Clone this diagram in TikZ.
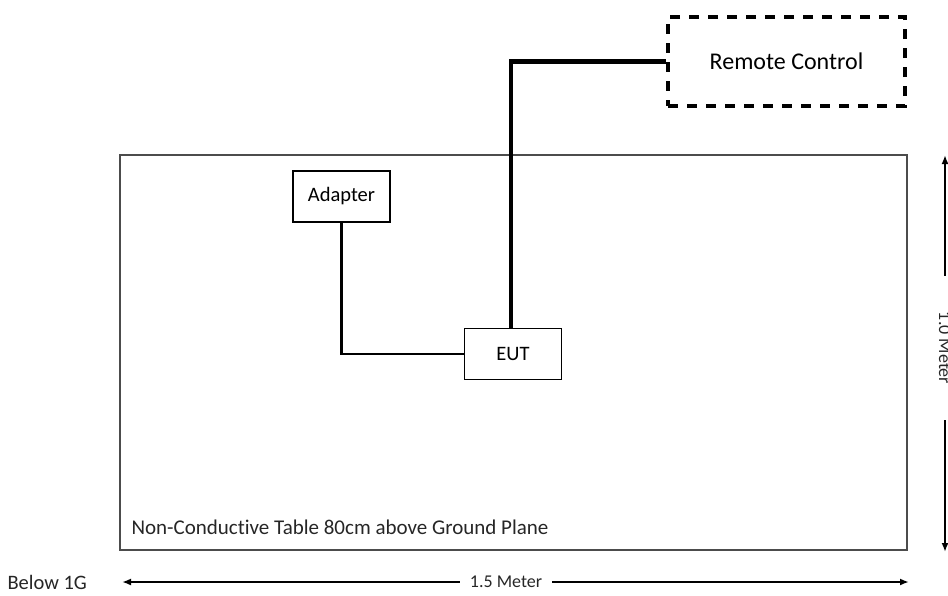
\documentclass[tikz,border=0pt]{standalone}
\usepackage{fontspec}
\setmainfont{Carlito}[Ligatures=NoCommon]
\usetikzlibrary{arrows.meta}

\begin{document}
\begin{tikzpicture}[
            x=1pt, y=-1pt,
            unit/.style={draw=black, line width=1.8pt, minimum width=97pt, minimum height=51pt, font=\fontsize{20.5}{23}\selectfont},
            cable/.style={line width=2.2pt},
            dim/.style={line width=2pt, -{Latex[length=9pt, width=7pt]}},
            lbl/.style={font=\fontsize{20.5}{23}\selectfont, text=black!85},
        ]
            \useasboundingbox (0, 0) rectangle (948, 595);

            % table outline and its label
            \draw[draw=black!70, line width=1.6pt] (120, 155) rectangle (907, 550);
            \node[lbl, anchor=west, font=\fontsize{21}{24}\selectfont] (tbl) at (128, 527) {Non-Conductive Table 80cm above Ground Plane};

            % devices on the table and the remote one
            \node[unit] (adapter) at (341.5, 196.5) {Adapter};
            \node[unit] (eut) at (513, 354) {EUT};
            \node[draw=black, line width=4pt, dash pattern=on 10pt off 9pt, minimum width=237pt, minimum height=89pt,
                  font=\fontsize{24}{27}\selectfont] (remote) at (786.5, 61.5) {Remote Control};

            % cables
            \draw[cable] (adapter.south) |- (eut.west);
            \draw[line width=4.2pt] ([xshift=-2pt]eut.north) |- (remote.west);

            % width of the table
            \node[lbl, anchor=west] (band) at (4, 582) {Below 1G};
            \node[lbl, inner sep=10pt, font=\fontsize{18}{21}\selectfont] (wlen) at (506, 582) {1.5 Meter};
            \coordinate (wleft) at (122, 582);
            \coordinate (wright) at (909, 582);
            \draw[dim] (wlen.west) -- (wleft);
            \draw[dim] (wlen.east) -- (wright);

            % depth of the table
            \node[lbl, rotate=-90, inner sep=36pt, font=\fontsize{18}{21}\selectfont] (dlen) at (945, 348) {1.0 Meter};
            \coordinate (dtop) at (945, 155);
            \coordinate (dbot) at (945, 552);
            \draw[dim] (dlen.west) -- (dtop);
            \draw[dim] (dlen.east) -- (dbot);
        \end{tikzpicture}
\end{document}
